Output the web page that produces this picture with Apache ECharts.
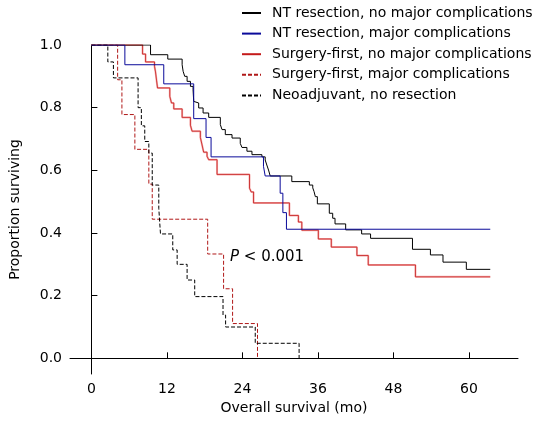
<!DOCTYPE html>
<html>
<head>
<meta charset="utf-8">
<script src="https://cdn.jsdelivr.net/npm/echarts@6/dist/echarts.min.js"></script>
<style>html,body{margin:0;padding:0;background:#fff}#c{width:548px;height:424px}</style>
</head>
<body>
<div id="c"></div>
<script>
// Series names
const names = [
  'NT resection, no major complications',
  'NT resection, major complications',
  'Surgery-first, no major complications',
  'Surgery-first, major complications',
  'Neoadjuvant, no resection'
];
// NT resection, no major complications
const ntNoMajorTime = [0, 9.40, 12.14, 14.42, 14.58, 14.83, 15.21, 15.74, 16.16, 16.26, 16.53, 17.05, 17.75, 18.64, 20.49, 20.76, 21.28, 22.35, 23.66, 23.93, 24.72, 25.52, 27.10, 27.62, 27.88, 28.15, 28.42, 31.85, 34.64, 35.18, 35.39, 35.59, 35.91, 37.81, 38.35, 38.72, 40.41, 42.95, 44.37, 51.03, 53.88, 55.88, 59.59, 63.39];
const ntNoMajorSurv = [1, 0.969, 0.955, 0.937, 0.916, 0.900, 0.884, 0.868, 0.857, 0.820, 0.815, 0.799, 0.783, 0.769, 0.746, 0.730, 0.714, 0.703, 0.686, 0.673, 0.661, 0.650, 0.643, 0.633, 0.617, 0.601, 0.582, 0.564, 0.553, 0.544, 0.532, 0.516, 0.493, 0.463, 0.447, 0.429, 0.410, 0.397, 0.383, 0.348, 0.330, 0.307, 0.284, 0.284];
// NT resection, major complications
const ntMajorTime = [0, 5.32, 11.50, 16.26, 18.22, 19.02, 27.35, 27.62, 30.00, 30.43, 31.00, 63.39];
const ntMajorSurv = [1, 0.937, 0.876, 0.765, 0.705, 0.643, 0.613, 0.582, 0.527, 0.465, 0.412, 0.412];
// Surgery-first, no major complications
const sfNoMajorTime = [0, 8.13, 8.61, 10.03, 10.19, 10.35, 10.51, 12.46, 12.73, 13.09, 14.42, 15.74, 16.00, 17.32, 17.59, 17.84, 18.38, 18.64, 19.97, 25.13, 25.40, 25.77, 31.47, 32.90, 33.44, 36.07, 38.13, 42.20, 44.00, 51.50, 63.39];
const sfNoMajorSurv = [1, 0.971, 0.946, 0.932, 0.914, 0.888, 0.863, 0.836, 0.815, 0.796, 0.769, 0.744, 0.725, 0.705, 0.681, 0.658, 0.645, 0.634, 0.587, 0.543, 0.531, 0.496, 0.456, 0.435, 0.409, 0.381, 0.355, 0.328, 0.298, 0.260, 0.260];
// Surgery-first, major complications
const sfMajorTime = [0, 4.17, 4.85, 6.91, 9.13, 9.67, 18.48, 21.01, 22.44, 26.40];
const sfMajorSurv = [1, 0.889, 0.778, 0.667, 0.556, 0.444, 0.333, 0.222, 0.111, 0];
// Neoadjuvant, no resection
const neoTime = [0, 2.61, 3.50, 7.42, 7.94, 8.48, 9.13, 9.67, 10.71, 10.98, 12.93, 13.63, 15.21, 16.42, 20.92, 21.33, 26.04, 33.01];
const neoSurv = [1, 0.946, 0.895, 0.800, 0.742, 0.692, 0.655, 0.553, 0.479, 0.397, 0.346, 0.300, 0.250, 0.197, 0.138, 0.100, 0.048, 0];
// Tick labels
const xTicks = [0, 12, 24, 36, 48, 60];
const yTicks = [0, 0.2, 0.4, 0.6, 0.8, 1.0];
const pText = 'P < 0.001';

const zip = (t, s) => t.map((v, i) => [v, s[i]]);
const FONT = 'DejaVu Sans';

function km(name, t, s, color, type, width, z) {
  return {
    name: name, type: 'line', step: 'end', symbol: 'none', silent: true, z: z,
    data: zip(t, s), color: color,
    lineStyle: { color: color, width: width, type: type },
    emphasis: { disabled: true }
  };
}

const chart = echarts.init(document.getElementById('c'), null, { renderer: 'canvas' });
chart.setOption({
  animation: false,
  backgroundColor: '#fff',
  grid: { left: 70, right: 30, top: 45, bottom: 50 },
  legend: {
    data: names, orient: 'vertical', left: 241, top: 6, padding: 0,
    itemWidth: 19, itemHeight: 14, itemGap: 6.6, selectedMode: false,
    itemStyle: { opacity: 0 },
    textStyle: { fontFamily: FONT, fontSize: 14, color: '#000', padding: [0, 0, 0, 6] }
  },
  xAxis: {
    type: 'value', min: -3.4, max: 67.8,
    name: 'Overall survival (mo)', nameLocation: 'middle', nameGap: 27,
    nameTextStyle: { fontFamily: FONT, fontSize: 14, color: '#000' },
    axisLine: { lineStyle: { color: '#000', width: 1 } },
    axisTick: { inside: true, length: 6, customValues: xTicks, lineStyle: { color: '#000' } },
    axisLabel: { customValues: xTicks, margin: 8, fontFamily: FONT, fontSize: 14, color: '#000' },
    splitLine: { show: false }
  },
  yAxis: {
    type: 'value', min: -0.05, max: 1.0,
    name: 'Proportion surviving', nameLocation: 'middle', nameGap: 48,
    nameTextStyle: { fontFamily: FONT, fontSize: 14, color: '#000' },
    axisLine: { show: true, lineStyle: { color: '#000', width: 1 } },
    axisTick: { show: true, inside: true, length: 6, customValues: yTicks, lineStyle: { color: '#000' } },
    axisLabel: { customValues: yTicks, margin: 8, fontFamily: FONT, fontSize: 14, color: '#000',
      formatter: v => v.toFixed(1) },
    splitLine: { show: false }
  },
  graphic: [{
    type: 'text', left: 230, top: 250, silent: true,
    style: {
      text: '{i|P}' + pText.slice(1),
      fontFamily: FONT, fontSize: 15, fill: '#000',
      rich: { i: { fontStyle: 'italic', fontFamily: FONT, fontSize: 15, fill: '#000' } }
    }
  }],
  series: [
    km('', sfNoMajorTime, sfNoMajorSurv, '#f6b0b0', 'solid', 2, 1),
    km(names[2], sfNoMajorTime, sfNoMajorSurv, '#c41a1a', 'solid', 0.8, 2),
    km(names[3], sfMajorTime, sfMajorSurv, '#b01818', [4, 2], 1, 3),
    km(names[4], neoTime, neoSurv, '#000000', [4, 2], 1, 3),
    km(names[0], ntNoMajorTime, ntNoMajorSurv, '#000000', 'solid', 1, 4),
    km(names[1], ntMajorTime, ntMajorSurv, '#0a0a9a', 'solid', 1, 5)
  ]
});
</script>
</body>
</html>
